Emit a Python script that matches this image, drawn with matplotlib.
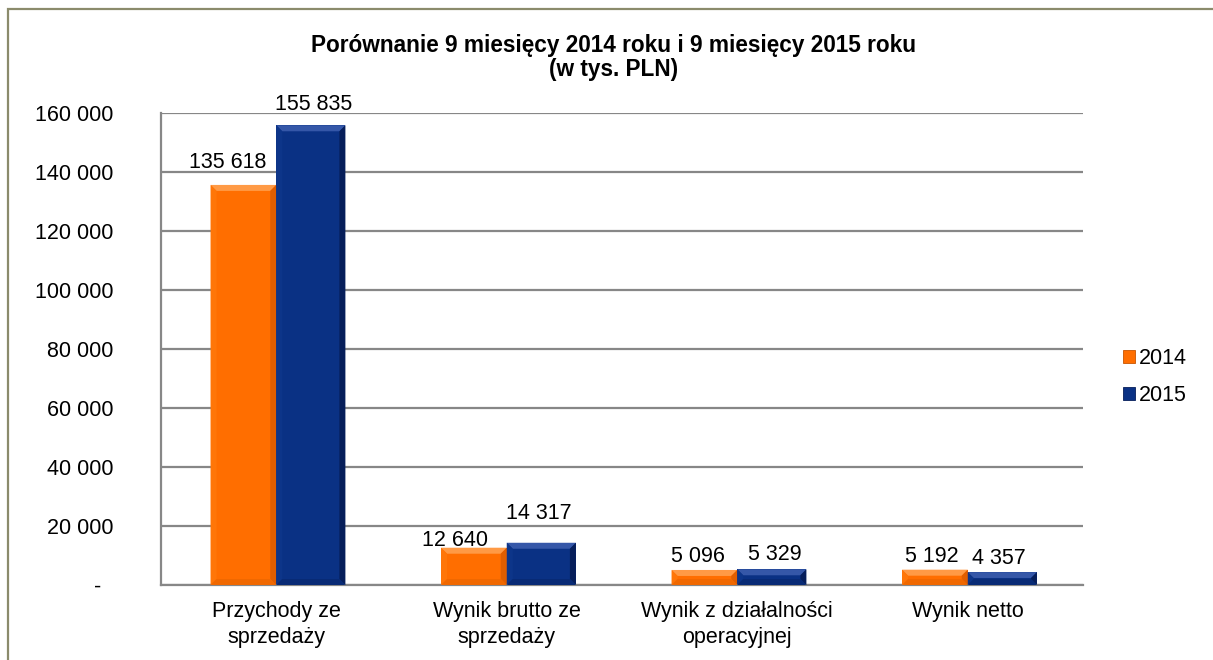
import matplotlib
matplotlib.use("Agg")
import matplotlib.pyplot as plt
from matplotlib.patches import Polygon, Patch, Rectangle
from matplotlib.transforms import IdentityTransform

plt.rcParams['font.family'] = ['Liberation Sans', 'DejaVu Sans']

# ---- data ----
categories = ["Przychody ze\nsprzedaży", "Wynik brutto ze\nsprzedaży",
              "Wynik z działalności\noperacyjnej", "Wynik netto"]
series_names = ["2014", "2015"]
values_2014 = [135618, 12640, 5096, 5192]
values_2015 = [155835, 14317, 5329, 4357]
yticks = [0, 20000, 40000, 60000, 80000, 100000, 120000, 140000, 160000]
ytick_labels = ["-  ", "20 000", "40 000", "60 000", "80 000", "100 000",
                "120 000", "140 000", "160 000"]
title_lines = ["Porównanie 9 miesięcy 2014 roku i 9 miesięcy 2015 roku", "(w tys. PLN)"]

# ---- style ----
W, H = 1213, 660
FS = 15.5
orange = "#FF6E00"
blue = "#0A3184"
grid_c = "#878787"

# label placement tweaks (pixels): (dx, gap above bar top)
off_2014 = [(-16, 17), (-19, 2), (-6, 8), (-3, 8)]
off_2015 = [(3, 15), (-3, 24), (3, 9), (-3, 8)]

def fmt(v):
    return f"{v:,}".replace(",", " ")

fig = plt.figure(figsize=(W / 100, H / 100), dpi=100)
fig.patch.set_facecolor("white")

# outer frame
fig.add_artist(Rectangle((8 / W, -0.05), 1.1, 1.05 - 9 / H,
                         transform=fig.transFigure, fill=False,
                         edgecolor="#8B8B6C", linewidth=1.6))

ax = fig.add_axes([161 / W, (H - 585) / H, (1083 - 161) / W, (585 - 113) / H])
ax.set_xlim(-0.5, len(categories) - 0.5)
ax.set_ylim(0, 160000)
ax.set_axisbelow(True)

x = list(range(len(categories)))
bw1, bw2 = 0.285, 0.30
bars1 = ax.bar([i - bw1 / 2 for i in x], values_2014, width=bw1, color=orange,
               linewidth=0, label=series_names[0], zorder=2)
bars2 = ax.bar([i + bw2 / 2 for i in x], values_2015, width=bw2, color=blue,
               linewidth=0, label=series_names[1], zorder=2)

ax.set_yticks(yticks)
ax.set_yticklabels(ytick_labels)
ax.yaxis.grid(True, color=grid_c, linewidth=1.6)
ax.tick_params(axis='y', length=0, pad=34.5, labelsize=FS)
ax.set_xticks(x)
ax.set_xticklabels(categories, fontsize=FS, linespacing=1.32)
ax.tick_params(axis='x', length=0, pad=11.5)
for s in ["top", "right"]:
    ax.spines[s].set_visible(False)
for s in ["left", "bottom"]:
    ax.spines[s].set_color(grid_c)
    ax.spines[s].set_linewidth(1.6)

# bevel shading
def bevel(bars, light, lightside, dark, darkbottom):
    for p in bars:
        x0, y0 = ax.transData.transform((p.get_x(), p.get_y()))
        x1, y1 = ax.transData.transform((p.get_x() + p.get_width(), p.get_y() + p.get_height()))
        b = min(6.0, (y1 - y0) / 2.2)
        polys = [
            ([(x0, y1), (x1, y1), (x1 - b, y1 - b), (x0 + b, y1 - b)], light),
            ([(x0, y0), (x0 + b, y0 + b), (x0 + b, y1 - b), (x0, y1)], lightside),
            ([(x1, y0), (x1 - b, y0 + b), (x1 - b, y1 - b), (x1, y1)], dark),
            ([(x0, y0), (x1, y0), (x1 - b, y0 + b), (x0 + b, y0 + b)], darkbottom),
        ]
        for pts, c in polys:
            fig.add_artist(Polygon(pts, closed=True, facecolor=c, edgecolor="none",
                                   transform=IdentityTransform(), zorder=3))

bevel(bars1, "#FF9A45", "#FF7608", "#E05E00", "#F06800")
bevel(bars2, "#3557A8", "#0D3589", "#061E5A", "#082A75")

# data labels
for bars, vals, offs in ((bars1, values_2014, off_2014), (bars2, values_2015, off_2015)):
    for p, v, (dx, gap) in zip(bars, vals, offs):
        ax.annotate(fmt(v), (p.get_x() + p.get_width() / 2, p.get_height()),
                    xytext=(dx, gap), textcoords="offset pixels",
                    ha="center", va="baseline", fontsize=FS, color="black", zorder=5)

# title
fig.text(613.5 / W, 1 - 52 / H, title_lines[0], ha="center", va="baseline",
         fontsize=16.3, fontweight="bold")
fig.text(613.5 / W, 1 - 76 / H, title_lines[1], ha="center", va="baseline",
         fontsize=16.3, fontweight="bold")

# legend
handles = [Patch(facecolor=orange, edgecolor="#C85500", linewidth=0.6),
           Patch(facecolor=blue, edgecolor="#061E5A", linewidth=0.6)]
fig.legend(handles, series_names, loc="center left",
           bbox_to_anchor=(1123 / W, 1 - 377 / H), frameon=False, fontsize=FS,
           handlelength=0.56, handleheight=0.56, handletextpad=0.2,
           labelspacing=0.72, borderpad=0, borderaxespad=0)

fig.savefig("out.png", dpi=100)
